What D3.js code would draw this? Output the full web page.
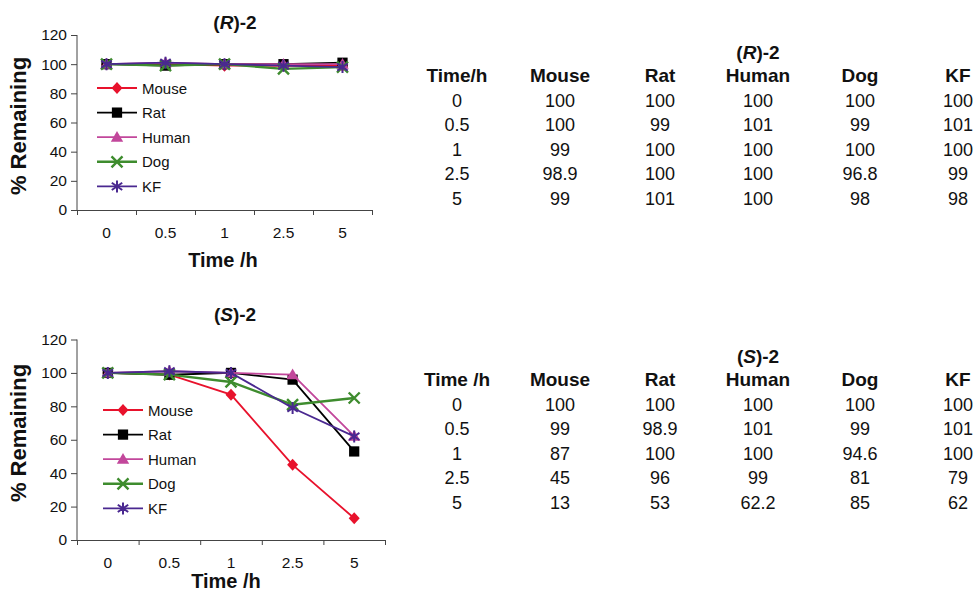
<!DOCTYPE html>
<html>
<head>
    <meta charset="utf-8">
    <title>(R)-2 and (S)-2 stability</title>
    <script src="https://d3js.org/d3.v7.min.js"></script>
    <style>
        body { margin: 0; background: #fff; }
        text { font-family: Arial, "Liberation Sans", sans-serif; fill: #111; }
        .axis path, .axis line { stroke: #444; stroke-width: 1px; }
        .axis text { font-size: 15.5px; }
        .title { font-size: 19px; font-weight: bold; }
        .label { font-weight: bold; }
        .legend text { font-size: 15px; }
        .tbl text { font-size: 18px; text-anchor: middle; }
        .tbl .head { font-size: 19px; font-weight: bold; }
    </style>
</head>
<body>
<script>
    // data
    let times = ["0", "0.5", "1", "2.5", "5"];
    let species = ["Mouse", "Rat", "Human", "Dog", "KF"];

    let rMouse = [100, 100, 99, 98.9, 99];
    let rRat   = [100, 99, 100, 100, 101];
    let rHuman = [100, 101, 100, 100, 100];
    let rDog   = [100, 99, 100, 96.8, 98];
    let rKF    = [100, 101, 100, 99, 98];

    let sMouse = [100, 99, 87, 45, 13];
    let sRat   = [100, 98.9, 100, 96, 53];
    let sHuman = [100, 101, 100, 99, 62.2];
    let sDog   = [100, 99, 94.6, 81, 85];
    let sKF    = [100, 101, 100, 79, 62];

    let yTicks = [0, 20, 40, 60, 80, 100, 120];

    let colors = {Mouse: "#e8122c", Rat: "#000000", Human: "#c2479b", Dog: "#3e8c2e", KF: "#4a2890"};

    let svg = d3.select("body").append("svg")
        .attr("width", 980)
        .attr("height", 598);

    // marker shapes
    function marker(g, name, x, y) {
        let c = colors[name];
        if (name == "Mouse") {
            g.append("path").attr("d", "M0,-6L5.5,0L0,6L-5.5,0Z")
                .attr("transform", `translate(${x},${y})`).attr("fill", c);
        } else if (name == "Rat") {
            g.append("path").attr("d", d3.symbol(d3.symbolSquare, 105)())
                .attr("transform", `translate(${x},${y})`).attr("fill", c);
        } else if (name == "Human") {
            g.append("path").attr("d", d3.symbol(d3.symbolTriangle, 66)())
                .attr("transform", `translate(${x},${y + 1})`).attr("fill", c);
        } else if (name == "Dog") {
            let r = 5.5;
            g.append("path").attr("d", `M${-r},${-r}L${r},${r}M${-r},${r}L${r},${-r}`)
                .attr("transform", `translate(${x},${y})`)
                .attr("stroke", c).attr("stroke-width", 2.4).attr("fill", "none");
        } else {
            let r = 6;
            g.append("path").attr("d", `M0,${-r}L0,${r}M${-r*0.87},${-r*0.6}L${r*0.87},${r*0.6}M${-r*0.87},${r*0.6}L${r*0.87},${-r*0.6}`)
                .attr("transform", `translate(${x},${y})`)
                .attr("stroke", c).attr("stroke-width", 2).attr("fill", "none");
        }
    }

    function drawChart(cfg) {
        let x = d3.scaleBand().domain(times).range([cfg.x0, cfg.x1]);
        let xb = d3.scaleLinear().domain([0, times.length]).range([cfg.x0, cfg.x1]);
        let y = d3.scaleLinear().domain([0, 120]).range([cfg.yb, cfg.yt]);

        let g = svg.append("g");

        g.append("g").attr("class", "axis")
            .attr("transform", `translate(${cfg.x0},0)`)
            .call(d3.axisLeft(y).tickValues(yTicks).tickSize(6).tickPadding(4))
            .call(a => a.select(".domain").attr("d", `M0,${cfg.yt}V${cfg.yb}`));

        g.append("g").attr("class", "axis")
            .attr("transform", `translate(0,${cfg.yb})`)
            .call(d3.axisBottom(xb).tickValues(d3.range(times.length + 1)).tickFormat("").tickSize(5).tickSizeOuter(0));

        g.append("g").attr("class", "axis")
            .attr("transform", `translate(0,${cfg.yb})`)
            .call(d3.axisBottom(x).tickSize(0).tickPadding(17))
            .call(a => a.select(".domain").remove());

        let line = d3.line().x((d, i) => x(times[i]) + x.bandwidth() / 2).y(d => y(d));

        species.forEach((s, k) => {
            let vals = cfg.series[k];
            g.append("path").attr("d", line(vals))
                .attr("fill", "none").attr("stroke", colors[s])
                .attr("stroke-width", s == "Dog" ? 2.4 : 1.8);
            vals.forEach((v, i) => marker(g, s, x(times[i]) + x.bandwidth() / 2, y(v)));
        });

        // legend
        let lg = g.append("g").attr("class", "legend");
        species.forEach((s, k) => {
            let ly = cfg.legY + k * 24.6;
            lg.append("line").attr("x1", cfg.legX).attr("x2", cfg.legX + 40)
                .attr("y1", ly).attr("y2", ly)
                .attr("stroke", colors[s]).attr("stroke-width", s == "Dog" ? 2.4 : 1.8);
            marker(lg, s, cfg.legX + 20, ly);
            lg.append("text").attr("x", cfg.legX + 45).attr("y", ly + 5.5).text(s);
        });

        // title
        let t = g.append("text").attr("class", "title")
            .attr("x", 235).attr("y", cfg.titleY).attr("text-anchor", "middle");
        t.append("tspan").text("(");
        t.append("tspan").attr("font-style", "italic").text(cfg.letter);
        t.append("tspan").text(")-2");

        g.append("text").attr("class", "label")
            .attr("x", cfg.xlabX).attr("y", cfg.xlabY)
            .attr("text-anchor", "middle").attr("font-size", "20px")
            .text("Time /h");

        g.append("text").attr("class", "label")
            .attr("transform", `translate(26,${cfg.ylabY}) rotate(-90)`)
            .attr("text-anchor", "middle").attr("font-size", "22px")
            .text("% Remaining");
    }

    function drawTable(cfg) {
        let cols = [457, 560, 660, 758, 860, 958];
        let g = svg.append("g").attr("class", "tbl");

        let t = g.append("text").attr("class", "head")
            .attr("x", cols[3]).attr("y", cfg.titleY);
        t.append("tspan").text("(");
        t.append("tspan").attr("font-style", "italic").text(cfg.letter);
        t.append("tspan").text(")-2");

        [cfg.timeHead].concat(species).forEach((h, j) => {
            g.append("text").attr("class", "head")
                .attr("x", cols[j]).attr("y", cfg.headY).text(h);
        });

        times.forEach((tm, i) => {
            let ry = cfg.headY + 24.5 + i * 24.5;
            g.append("text").attr("x", cols[0]).attr("y", ry).text(tm);
            cfg.series.forEach((vals, k) => {
                g.append("text").attr("x", cols[k + 1]).attr("y", ry).text(vals[i]);
            });
        });
    }

    drawChart({
        letter: "R", series: [rMouse, rRat, rHuman, rDog, rKF],
        x0: 77, x1: 372, yt: 35, yb: 210,
        titleY: 29, xlabX: 223, xlabY: 267, ylabY: 126,
        legX: 97, legY: 88
    });

    drawChart({
        letter: "S", series: [sMouse, sRat, sHuman, sDog, sKF],
        x0: 77, x1: 385, yt: 339.5, yb: 540,
        titleY: 321, xlabX: 226, xlabY: 588, ylabY: 433,
        legX: 103, legY: 410
    });

    drawTable({letter: "R", timeHead: "Time/h", series: [rMouse, rRat, rHuman, rDog, rKF], titleY: 59, headY: 82});
    drawTable({letter: "S", timeHead: "Time /h", series: [sMouse, sRat, sHuman, sDog, sKF], titleY: 363, headY: 386});
</script>
</body>
</html>
